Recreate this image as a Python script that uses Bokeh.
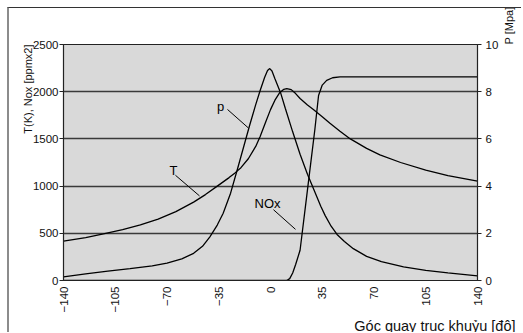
import math
from bokeh.plotting import figure
from bokeh.models import Range1d, LinearAxis, FixedTicker, Label, Title, InlineStyleSheet
from bokeh.embed import file_html
from bokeh.resources import INLINE

# ---- data ----
x_ticks = [-140, -105, -70, -35, 0, 35, 70, 105, 140]
left_ticks = [0, 500, 1000, 1500, 2000, 2500]
right_ticks = [0, 2, 4, 6, 8, 10]
grid_levels = [500, 1000, 1500, 2000]

# Temperature T [K] (left axis)
T_deg = [-140, -125, -113, -100, -88, -76, -64, -52, -44, -36, -28, -24, -20, -15, -10, -7, -3, 0, 3, 6, 9, 11, 14, 17, 20, 25, 29, 35, 40, 47, 54, 65, 74, 88, 105, 120, 140]
T_val = [417, 455, 495, 540, 590, 650, 730, 830, 910, 1000, 1090, 1140, 1195, 1290, 1420, 1525, 1690, 1810, 1910, 1985, 2025, 2033, 2022, 1980, 1928, 1860, 1812, 1735, 1668, 1582, 1500, 1400, 1330, 1250, 1168, 1110, 1052]

# Pressure p [MPa] (right axis)
p_deg = [-140, -125, -110, -95, -80, -70, -60, -52, -46, -41, -36, -32, -27, -22, -18, -14, -10, -7, -4, -2, -0.5, 1, 3, 6.8, 10, 15, 20, 25, 30, 34, 37, 41, 45, 50, 56, 65, 75, 90, 105, 120, 140]
p_val = [0.15, 0.28, 0.4, 0.5, 0.62, 0.74, 0.92, 1.15, 1.45, 1.85, 2.35, 2.85, 3.7, 4.8, 5.7, 6.6, 7.45, 8.05, 8.6, 8.9, 8.98, 8.88, 8.55, 7.96, 7.3, 6.3, 5.35, 4.5, 3.75, 3.15, 2.75, 2.3, 1.95, 1.65, 1.35, 1.02, 0.8, 0.58, 0.43, 0.32, 0.2]

# NOx [ppm x2] (left axis)
nox_deg = [-140, 11, 13, 15, 17, 20, 25, 30, 32.5, 35, 38, 42, 47, 140]
nox_val = [0, 0, 20, 80, 170, 320, 960, 1600, 1960, 2070, 2120, 2148, 2156, 2156]

# curve labels and leader lines
curve_labels = ["p", "T", "NOx"]
label_x = [-33.8, -65.6, -2.0]
label_y = [1840, 1170, 812]
leader_x0 = [-29.1, -64.3, 2.0]
leader_y0 = [1812, 1115, 750]
leader_x1 = [-14.9, -48.0, 16.9]
leader_y1 = [1615, 896, 542]

FONT = "Liberation Sans"
TXT = "#111111"

frame_css = InlineStyleSheet(css=":host { border-left: 2px solid #8c8c8c; border-top: 1px solid #333333; }")

p = figure(width=514, height=325, title=None,
           x_range=Range1d(-140, 140), y_range=Range1d(0, 2500),
           output_backend="svg", toolbar_location=None,
           min_border_left=54, min_border_right=46, min_border_top=36, min_border_bottom=49,
           background_fill_color="#d9d9d9", border_fill_color="white",
           outline_line_color="#222222", outline_line_width=1.2,
           stylesheets=[frame_css],
           styles={"border-left": "2px solid #8c8c8c", "border-top": "1px solid #333333",
                   "margin-left": "7px", "margin-top": "7px"})

p.extra_y_ranges = {"p": Range1d(0, 10)}

# grid
p.xgrid.visible = False
p.ygrid.ticker = FixedTicker(ticks=grid_levels)
p.ygrid.grid_line_color = "#3a3a3a"
p.ygrid.grid_line_width = 1.5


def style_axis(ax, tick_out, standoff):
    ax.major_tick_out = tick_out
    ax.major_tick_in = 0
    ax.minor_tick_out = 0
    ax.minor_tick_in = 0
    ax.major_label_standoff = standoff
    ax.axis_line_color = "#222222"
    ax.major_tick_line_color = "#222222"
    ax.major_label_text_font = FONT
    ax.major_label_text_font_size = "11.5px"
    ax.major_label_text_color = TXT


def label_only_axis(ax, text, standoff):
    ax.ticker = FixedTicker(ticks=[])
    ax.axis_line_color = None
    ax.major_tick_line_color = None
    ax.minor_tick_line_color = None
    ax.major_tick_out = 0
    ax.major_tick_in = 0
    ax.minor_tick_out = 0
    ax.minor_tick_in = 0
    ax.major_label_standoff = 0
    ax.axis_label = text
    ax.axis_label_align = "end"
    ax.axis_label_orientation = math.pi / 2
    ax.axis_label_standoff = standoff
    ax.axis_label_text_font = FONT
    ax.axis_label_text_font_size = "11px"
    ax.axis_label_text_font_style = "normal"
    ax.axis_label_text_color = TXT


xa = p.xaxis[0]
xa.ticker = FixedTicker(ticks=x_ticks)
xa.major_label_orientation = math.pi / 2
style_axis(xa, 0, 6)

ya = p.yaxis[0]
ya.ticker = FixedTicker(ticks=left_ticks)
style_axis(ya, 4, 1)

ra = LinearAxis(y_range_name="p", ticker=FixedTicker(ticks=right_ticks))
style_axis(ra, 4, 4)
p.add_layout(ra, "right")

# left axis title (own axis, label placed near the top)
ya2 = LinearAxis()
label_only_axis(ya2, "T(K), Nox [ppmx2]", 2)
p.add_layout(ya2, "left")

# right axis title (reads bottom-to-top, near the top)
ra2 = LinearAxis(y_range_name="p")
label_only_axis(ra2, "P [Mpa]", 7)
p.add_layout(ra2, "right")

# x axis title at bottom right
p.add_layout(Title(text="Góc quay trục khuỷu [độ]", align="right", offset=-38, standoff=0,
                   text_font=FONT, text_font_size="14.5px", text_font_style="normal",
                   text_color=TXT), "below")

# curves
p.line(T_deg, T_val, line_color="black", line_width=1.3)
p.line(p_deg, p_val, line_color="black", line_width=1.3, y_range_name="p")
p.line(nox_deg, nox_val, line_color="black", line_width=1.3)

# leader lines + labels
p.segment(x0=leader_x0, y0=leader_y0, x1=leader_x1, y1=leader_y1, line_color="black", line_width=1)
for t, lx, ly in zip(curve_labels, label_x, label_y):
    p.add_layout(Label(x=lx, y=ly, text=t, text_align="center", text_baseline="middle",
                       text_font=FONT, text_font_size="13px", text_color="black"))

open("out.html", "w").write(file_html(p, INLINE))
